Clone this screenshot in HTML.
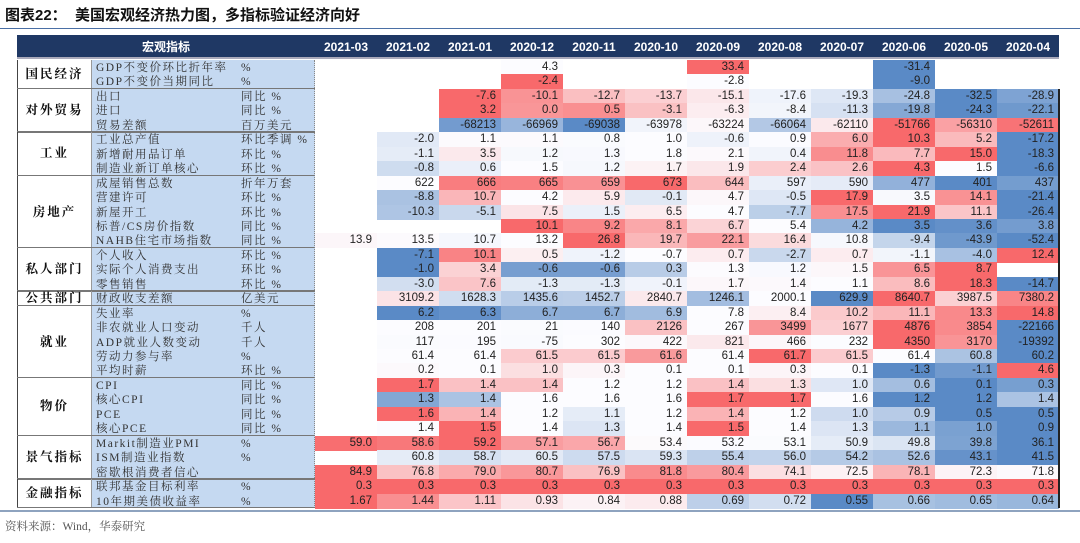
<!DOCTYPE html>
<html><head><meta charset="utf-8"><style>
body{margin:0;width:1080px;height:543px;background:#fff;position:relative;overflow:hidden;font-family:"Liberation Sans","Noto Sans CJK SC",sans-serif}
.a{position:absolute;box-sizing:border-box;white-space:nowrap}
.lab{font-family:"Liberation Serif","Noto Serif CJK SC",serif;font-size:11.5px;color:#333;line-height:14px;letter-spacing:1.5px}
.cat{font-family:"Liberation Serif","Noto Serif CJK SC",serif;font-weight:bold;font-size:12.5px;color:#111;text-align:center;letter-spacing:2px}
.v{font-size:11.5px;color:#222;text-align:right;padding-right:5px;line-height:15px}
.h{color:#fff;font-weight:bold;font-size:12px;text-align:center;line-height:24px}
</style></head><body>
<div class="a" style="left:5px;top:4px;font-size:15px;font-weight:bold;color:#111;font-family:'Liberation Sans','Noto Sans CJK SC',sans-serif">图表22：&nbsp;&nbsp;美国宏观经济热力图，多指标验证经济向好</div>
<div class="a" style="left:0;top:28px;width:1080px;height:1px;background:#4a6fa5"></div>
<div class="a" style="left:17px;top:35px;width:1042px;height:24px;background:#1f3864;border-bottom:2px solid #aab"></div>
<div class="a h" style="left:17px;top:35px;width:298px">宏观指标</div>
<div id="t"></div>
<div class="a" style="left:0;top:510px;width:1080px;height:2px;background:#8ea3bf"></div>
<div class="a" style="left:5px;top:518px;font-size:11.5px;color:#555;font-family:'Liberation Serif','Noto Serif CJK SC',serif">资料来源：Wind，华泰研究</div>
<script>
const months=["2021-03","2021-02","2021-01","2020-12","2020-11","2020-10","2020-09","2020-08","2020-07","2020-06","2020-05","2020-04"];
const groups=[["国民经济",2],["对外贸易",3],["工业",3],["房地产",5],["私人部门",3],["公共部门",1],["就业",5],["物价",4],["景气指标",3],["金融指标",2]];
const indicators=["GDP不变价环比折年率","GDP不变价当期同比","出口","进口","贸易差额","工业总产值","新增耐用品订单","制造业新订单核心","成屋销售总数","营建许可","新屋开工","标普/CS房价指数","NAHB住宅市场指数","个人收入","实际个人消费支出","零售销售","财政收支差额","失业率","非农就业人口变动","ADP就业人数变动","劳动力参与率","平均时薪","CPI","核心CPI","PCE","核心PCE","Markit制造业PMI","ISM制造业指数","密歇根消费者信心","联邦基金目标利率","10年期美债收益率"];
const units=["%","%","同比 %","同比 %","百万美元","环比季调 %","环比 %","环比 %","折年万套","环比 %","环比 %","同比 %","同比 %","环比 %","环比 %","环比 %","亿美元","%","千人","千人","%","环比 %","同比 %","同比 %","同比 %","同比 %","%","%","","%","%"];
const decimals=[1,1,1,1,0,1,1,1,0,1,1,1,1,1,1,1,1,1,0,0,1,1,1,1,1,1,1,1,1,1,2];
const N=null;
const values=[
[N,N,N,4.3,N,N,33.4,N,N,-31.4,N,N],
[N,N,N,-2.4,N,N,-2.8,N,N,-9.0,N,N],
[N,N,-7.6,-10.1,-12.7,-13.7,-15.1,-17.6,-19.3,-24.8,-32.5,-28.9],
[N,N,3.2,0.0,0.5,-3.1,-6.3,-8.4,-11.3,-19.8,-24.3,-22.1],
[N,N,-68213,-66969,-69038,-63978,-63224,-66064,-62110,-51766,-56310,-52611],
[N,-2.0,1.1,1.1,0.8,1.0,-0.6,0.9,6.0,10.3,5.2,-17.2],
[N,-1.1,3.5,1.2,1.3,1.8,2.1,0.4,11.8,7.7,15.0,-18.3],
[N,-0.8,0.6,1.5,1.2,1.7,1.9,2.4,2.6,4.3,1.5,-6.6],
[N,622,666,665,659,673,644,597,590,477,401,437],
[N,-8.8,10.7,4.2,5.9,-0.1,4.7,-0.5,17.9,3.5,14.1,-21.4],
[N,-10.3,-5.1,7.5,1.5,6.5,4.7,-7.7,17.5,21.9,11.1,-26.4],
[N,N,N,10.1,9.2,8.1,6.7,5.4,4.2,3.5,3.6,3.8],
[13.9,13.5,10.7,13.2,26.8,19.7,22.1,16.4,10.8,-9.4,-43.9,-52.4],
[N,-7.1,10.1,0.5,-1.2,-0.7,0.7,-2.7,0.7,-1.1,-4.0,12.4],
[N,-1.0,3.4,-0.6,-0.6,0.3,1.3,1.2,1.5,6.5,8.7,N],
[N,-3.0,7.6,-1.3,-1.3,-0.1,1.7,1.4,1.1,8.6,18.3,-14.7],
[N,3109.2,1628.3,1435.6,1452.7,2840.7,1246.1,2000.1,629.9,8640.7,3987.5,7380.2],
[N,6.2,6.3,6.7,6.7,6.9,7.8,8.4,10.2,11.1,13.3,14.8],
[N,208,201,21,140,2126,267,3499,1677,4876,3854,-22166],
[N,117,195,-75,302,422,821,466,232,4350,3170,-19392],
[N,61.4,61.4,61.5,61.5,61.6,61.4,61.7,61.5,61.4,60.8,60.2],
[N,0.2,0.1,1.0,0.3,0.1,0.1,0.3,0.1,-1.3,-1.1,4.6],
[N,1.7,1.4,1.4,1.2,1.2,1.4,1.3,1.0,0.6,0.1,0.3],
[N,1.3,1.4,1.6,1.6,1.6,1.7,1.7,1.6,1.2,1.2,1.4],
[N,1.6,1.4,1.2,1.1,1.2,1.4,1.2,1.0,0.9,0.5,0.5],
[N,1.4,1.5,1.4,1.3,1.4,1.5,1.4,1.3,1.1,1.0,0.9],
[59.0,58.6,59.2,57.1,56.7,53.4,53.2,53.1,50.9,49.8,39.8,36.1],
[N,60.8,58.7,60.5,57.5,59.3,55.4,56.0,54.2,52.6,43.1,41.5],
[84.9,76.8,79.0,80.7,76.9,81.8,80.4,74.1,72.5,78.1,72.3,71.8],
[0.3,0.3,0.3,0.3,0.3,0.3,0.3,0.3,0.3,0.3,0.3,0.3],
[1.67,1.44,1.11,0.93,0.84,0.88,0.69,0.72,0.55,0.66,0.65,0.64]
];
const midOverride={27:64,28:71.5};
const T=document.getElementById('t');
const X0=315,CW=62,Y0=60,RH=14.45;
function colX(j){return X0+j*CW;}
function rowY(i){return Y0+i*RH;}
function mix(a,b,t){return a.map((v,k)=>Math.round(v+(b[k]-v)*t));}
const RED=[248,105,107],MID=[252,252,255],BLUE=[90,138,198];
function color(row,i,v){
  const vs=row.filter(x=>x!==null).sort((a,b)=>a-b);
  const mn=vs[0],mx=vs[vs.length-1];
  if(mx===mn)return 'rgb('+RED+')';
  let md=midOverride[i]!==undefined?midOverride[i]:(vs.length%2?vs[(vs.length-1)/2]:(vs[vs.length/2-1]+vs[vs.length/2])/2);
  let c;
  if(v>=md)c=mix(MID,RED,mx===md?0:(v-md)/(mx-md));
  else c=mix(MID,BLUE,(md-v)/(md-mn));
  return 'rgb('+c+')';
}
function add(cls,style,text){const d=document.createElement('div');d.className='a '+cls;d.style.cssText=style;if(text!==undefined)d.textContent=text;T.appendChild(d);return d;}
months.forEach((m,j)=>{
  const d=add('h',`left:${colX(j)}px;top:35px;width:${CW}px`,m);
  
  
});
const lb=add('',`left:92px;top:${Y0}px;width:223px;height:${RH*31}px;background:#c5d9f1;border-right:1px dotted #888`);


let r=0;
groups.forEach(([g,n])=>{
  const c=add('cat',`left:17px;top:${rowY(r)}px;width:75px;height:${n*RH}px;line-height:${n*RH}px;border-left:1px solid #444;border-right:1px solid #999`,g);
  
  
  const s=add('',`left:17px;top:${rowY(r+n)-1}px;width:298px;height:1.5px;background:#777`);
  
  
  r+=n;
});
indicators.forEach((name,i)=>{
  const l=add('lab',`left:96px;top:${rowY(i)+1}px`,name);
  
  
  const u=add('lab',`left:241px;top:${rowY(i)+1}px`,units[i]);
  
  
  values[i].forEach((v,j)=>{
    if(v===null)return;
    const c=add('v',`left:${colX(j)}px;top:${rowY(i)}px;width:${CW}px;height:${RH+0.6}px;background:${color(values[i],i,v)}`,v.toFixed(decimals[i]));
    
    
  });
});
const rb=add('',`left:1058px;top:${rowY(2)}px;width:1.5px;height:${RH*29}px;background:#222`);


</script>
</body></html>
